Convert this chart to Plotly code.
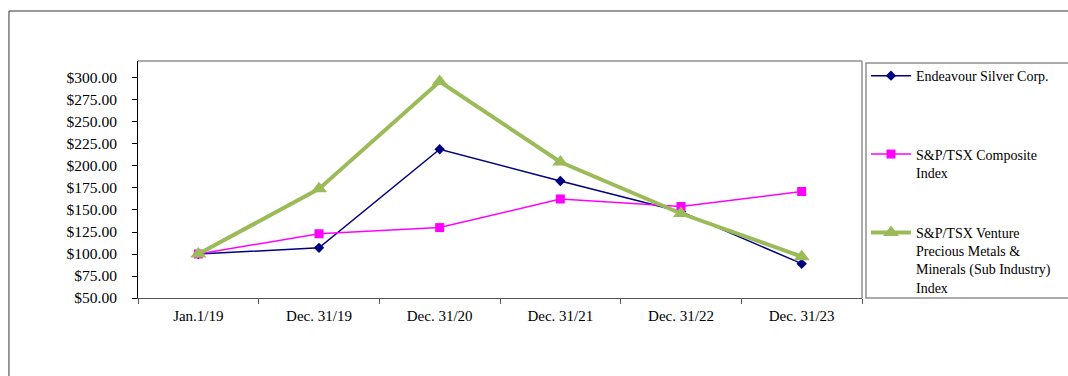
import plotly.graph_objects as go

categories = ["Jan.1/19", "Dec. 31/19", "Dec. 31/20", "Dec. 31/21", "Dec. 31/22", "Dec. 31/23"]
endeavour = [100.0, 107.0, 219.0, 183.0, 148.0, 89.0]
composite = [100.0, 123.0, 130.0, 162.5, 154.0, 171.0]
venture = [100.0, 174.0, 296.0, 204.5, 146.0, 97.0]
y_ticks = [50, 75, 100, 125, 150, 175, 200, 225, 250, 275, 300]

FONT = "Liberation Serif"

fig = go.Figure()
fig.add_trace(go.Scatter(
    x=categories, y=endeavour, name="Endeavour Silver Corp.<br>&nbsp;",
    mode="lines+markers", legendgroup="a",
    line=dict(color="#000080", width=1.5),
    marker=dict(symbol="diamond", size=8, color="#000080"),
))
fig.add_trace(go.Scatter(
    x=categories, y=composite, name="S&P/TSX Composite<br>Index",
    mode="lines+markers", legendgroup="b",
    line=dict(color="#FF00FF", width=1.5),
    marker=dict(symbol="square", size=9, color="#FF00FF"),
))
fig.add_trace(go.Scatter(
    x=categories, y=venture,
    name="S&P/TSX Venture<br>Precious Metals &<br>Minerals (Sub Industry)<br>Index",
    mode="lines+markers", legendgroup="c",
    line=dict(color="#9BBB59", width=4),
    marker=dict(symbol="triangle-up", size=14, color="#9BBB59"),
))

fig.update_layout(
    width=1068, height=376,
    margin=dict(l=138, r=206, t=61, b=78, autoexpand=False),
    paper_bgcolor="white", plot_bgcolor="white",
    font=dict(family=FONT, size=15, color="black"),
    showlegend=True,
    legend=dict(
        x=1.0055, y=1.004, xanchor="left", yanchor="top",
        font=dict(family=FONT, size=14, color="black"),
        traceorder="grouped", tracegroupgap=39, valign="top",
        itemwidth=40, maxheight=320,
        bgcolor="rgba(0,0,0,0)", borderwidth=0,
    ),
    xaxis=dict(
        type="category", range=[-0.5, 5.5], tickson="boundaries",
        ticks="outside", ticklen=5, tickcolor="#555", showline=True,
        linecolor="#555", linewidth=1, showgrid=False, zeroline=False,
        tickfont=dict(family=FONT, size=15), ticklabelstandoff=4,
    ),
    yaxis=dict(
        range=[50, 319.3], tickvals=y_ticks, tickformat="$.2f",
        ticks="outside", ticklen=5, tickcolor="black", showline=True,
        linecolor="black", linewidth=1, showgrid=False, zeroline=False,
        tickfont=dict(family=FONT, size=15.5), ticklabelstandoff=12,
    ),
    shapes=[
        dict(type="line", xref="paper", yref="paper", x0=0, x1=1, y0=1, y1=1,
             line=dict(color="#909090", width=1.5)),
        dict(type="line", xref="paper", yref="paper", x0=1, x1=1, y0=0, y1=1,
             line=dict(color="#909090", width=1.5)),
        dict(type="rect", xref="paper", yref="paper", x0=1.0055, x1=1.40, y0=0.0, y1=0.9916,
             line=dict(color="#909090", width=1.5)),
        dict(type="rect", xref="paper", yref="paper", x0=-0.1782, x1=1.5, y0=-0.6, y1=1.211,
             line=dict(color="#333333", width=1)),
    ],
)

fig.write_html("out.html")
